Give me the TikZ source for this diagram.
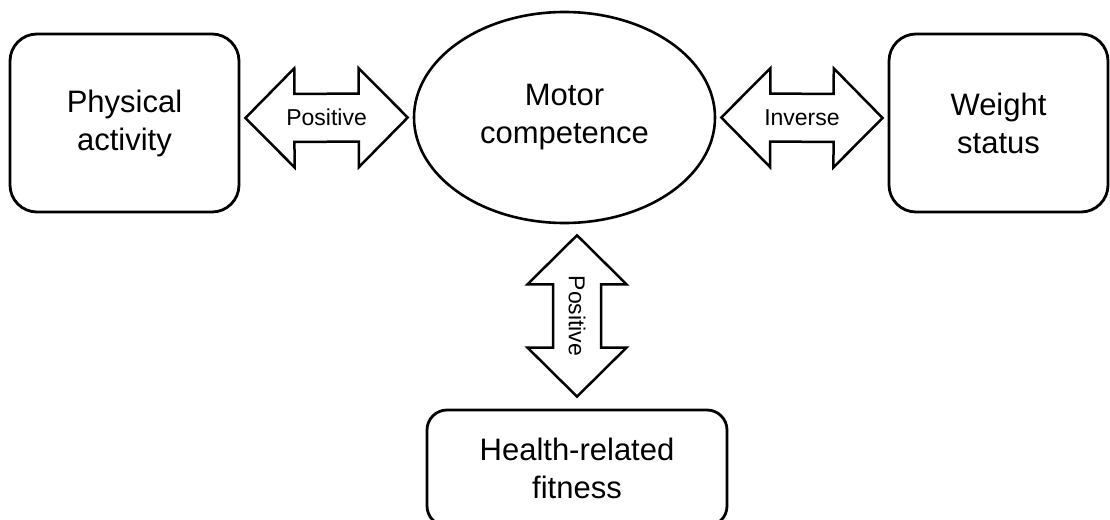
\documentclass[tikz,border=0pt]{standalone}
\usepackage{fontspec}
\setmainfont{Liberation Sans}
\usetikzlibrary{shapes.geometric,calc}
\tikzset{
  box/.style={draw, line width=2.8pt, rounded corners=27pt, align=center,
    font=\fontsize{31}{38}\selectfont, inner sep=0pt},
  oval/.style={draw, ellipse, line width=2.6pt, align=center,
    font=\fontsize{31}{38}\selectfont, inner sep=0pt},
  arrowline/.style={draw, line width=2.5pt, line join=miter, fill=white},
  lbl/.style={font=\fontsize{23}{27}\selectfont, inner sep=0pt},
}
\newcommand\dblarr[3]{%
  \path[arrowline] (#1)
    -- ($(#1)!49pt!(#2)!49.5pt!90:(#2)$)
    -- ($(#1)!49pt!(#2)!24pt!90:(#2)$)
    -- ($(#2)!49pt!(#1)!24pt!-90:(#1)$)
    -- ($(#2)!49pt!(#1)!49.5pt!-90:(#1)$)
    -- (#2)
    -- ($(#2)!49pt!(#1)!49.5pt!90:(#1)$)
    -- ($(#2)!49pt!(#1)!24pt!90:(#1)$)
    -- ($(#1)!49pt!(#2)!24pt!-90:(#2)$)
    -- ($(#1)!49pt!(#2)!49.5pt!-90:(#2)$)
    -- cycle;}
\begin{document}
\begin{tikzpicture}[x=1pt,y=-1pt]
\useasboundingbox (0,0) rectangle (1110,519);
\clip (0,0) rectangle (1110,519);
\fill[white] (0,0) rectangle (1110,519);
\node[box, minimum width=229pt, minimum height=178pt] (pa) at (124.5,123) {Physical\\activity};
\node[box, minimum width=219pt, minimum height=178pt] (ws) at (998.5,123) {Weight\\status};
\node[oval, minimum width=301pt, minimum height=211pt] (mc) at (564.5,117.5) {Motor\\competence};
\node[box, rounded corners=20pt, minimum width=300pt, minimum height=116pt] (hf) at (577,468) {Health-related\\fitness};
% arrow end points
\coordinate (a1) at ($(pa.east)+(5,-5)$);
\coordinate (a2) at ($(mc.west)+(-5,0)$);
\coordinate (b1) at ($(mc.east)+(5,0)$);
\coordinate (b2) at ($(ws.west)+(-5,-5)$);
\coordinate (c1) at ($(mc.south)+(12.5,11)$);
\coordinate (c2) at ($(hf.north)+(0,-12)$);
\dblarr{a1}{a2}{}
\dblarr{b1}{b2}{}
\dblarr{c1}{c2}{}
\node[lbl] (l1) at ($(a1)!0.5!(a2)$) {Positive};
\node[lbl] (l2) at ($(b1)!0.5!(b2)$) {Inverse};
\node[lbl, rotate=-90] (l3) at ($(c1)!0.5!(c2)$) {Positive};
\end{tikzpicture}
\end{document}
